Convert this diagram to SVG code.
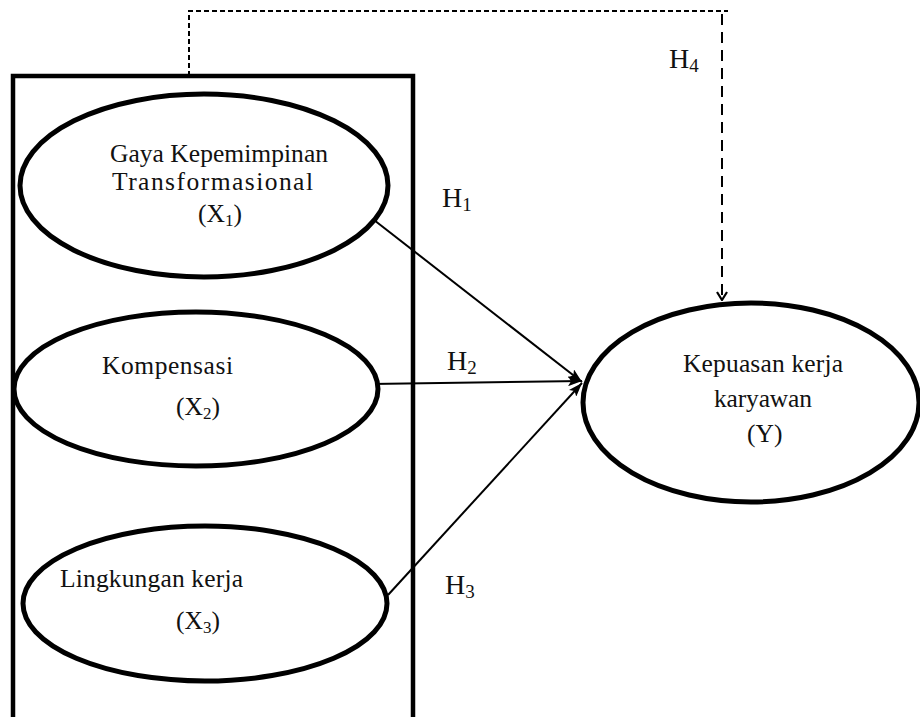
<svg xmlns="http://www.w3.org/2000/svg" width="920" height="717" viewBox="0 0 920 717">
<defs>
<style>
.node{fill:#fff;stroke:#000;stroke-width:5}
.t{font-family:"Liberation Serif","Times New Roman",serif;font-size:25.5px;fill:#111}
.h{font-family:"Liberation Serif","Times New Roman",serif;font-size:28px;fill:#111}
.sub{font-size:17px}
.hsub{font-size:19px}
.conn{stroke:#000;stroke-width:2;fill:none}
</style>
<marker id="arr" viewBox="0 0 14 10" refX="14" refY="5" markerWidth="14" markerHeight="10" markerUnits="userSpaceOnUse" orient="auto">
<path d="M0,0 L14,5 L0,10 L3,5 Z" fill="#000"/>
</marker>
<marker id="open" viewBox="0 0 12 12" refX="6" refY="11" markerWidth="12" markerHeight="12" markerUnits="userSpaceOnUse" orient="0">
<path d="M1,3 L6,11 L11,3" fill="none" stroke="#000" stroke-width="2.2"/>
</marker>
</defs>
<rect width="920" height="717" fill="#fff"/>
<g id="frame">
<path d="M13,740 V76 H413 V740" fill="none" stroke="#000" stroke-width="4.5"/>
</g>
<g id="connectors">
<path class="conn" d="M189,76 V11 H728" stroke-width="1.6" stroke-dasharray="5,3"/>
<path class="conn" d="M722,14 V300" stroke-width="3" stroke-dasharray="11,7" marker-end="url(#open)"/>
<line class="conn" x1="374" y1="220" x2="582" y2="382" marker-end="url(#arr)"/>
<line class="conn" x1="371" y1="384" x2="582" y2="381" marker-end="url(#arr)"/>
<line class="conn" x1="388" y1="595" x2="582" y2="383" marker-end="url(#arr)"/>
</g>
<g id="x1">
<ellipse class="node" cx="204" cy="185.5" rx="184" ry="91.5"/>
<text class="t" x="110" y="162" textLength="218" lengthAdjust="spacing">Gaya Kepemimpinan</text>
<text class="t" x="112" y="190" textLength="201" lengthAdjust="spacing">Transformasional</text>
<text class="t" x="198" y="222">(X<tspan class="sub" dy="4">1</tspan><tspan dy="-4">)</tspan></text>
</g>
<g id="x2">
<ellipse class="node" cx="196" cy="389" rx="182" ry="77"/>
<text class="t" x="102" y="374" textLength="131" lengthAdjust="spacing">Kompensasi</text>
<text class="t" x="176" y="415">(X<tspan class="sub" dy="4">2</tspan><tspan dy="-4">)</tspan></text>
</g>
<g id="x3">
<ellipse class="node" cx="205" cy="603.5" rx="182" ry="77.5"/>
<text class="t" x="60" y="587" textLength="183" lengthAdjust="spacing">Lingkungan kerja</text>
<text class="t" x="176" y="629">(X<tspan class="sub" dy="4">3</tspan><tspan dy="-4">)</tspan></text>
</g>
<g id="y">
<ellipse class="node" cx="751" cy="402.5" rx="168" ry="99.5"/>
<text class="t" x="683" y="372" textLength="160" lengthAdjust="spacing">Kepuasan kerja</text>
<text class="t" x="714" y="407" textLength="98" lengthAdjust="spacing">karyawan</text>
<text class="t" x="747" y="442">(Y)</text>
</g>
<g id="labels">
<text class="h" x="442" y="207">H<tspan class="hsub" dy="4">1</tspan></text>
<text class="h" x="447" y="370">H<tspan class="hsub" dy="4">2</tspan></text>
<text class="h" x="445" y="594">H<tspan class="hsub" dy="4">3</tspan></text>
<text class="h" x="669" y="68">H<tspan class="hsub" dy="4">4</tspan></text>
</g>
</svg>
